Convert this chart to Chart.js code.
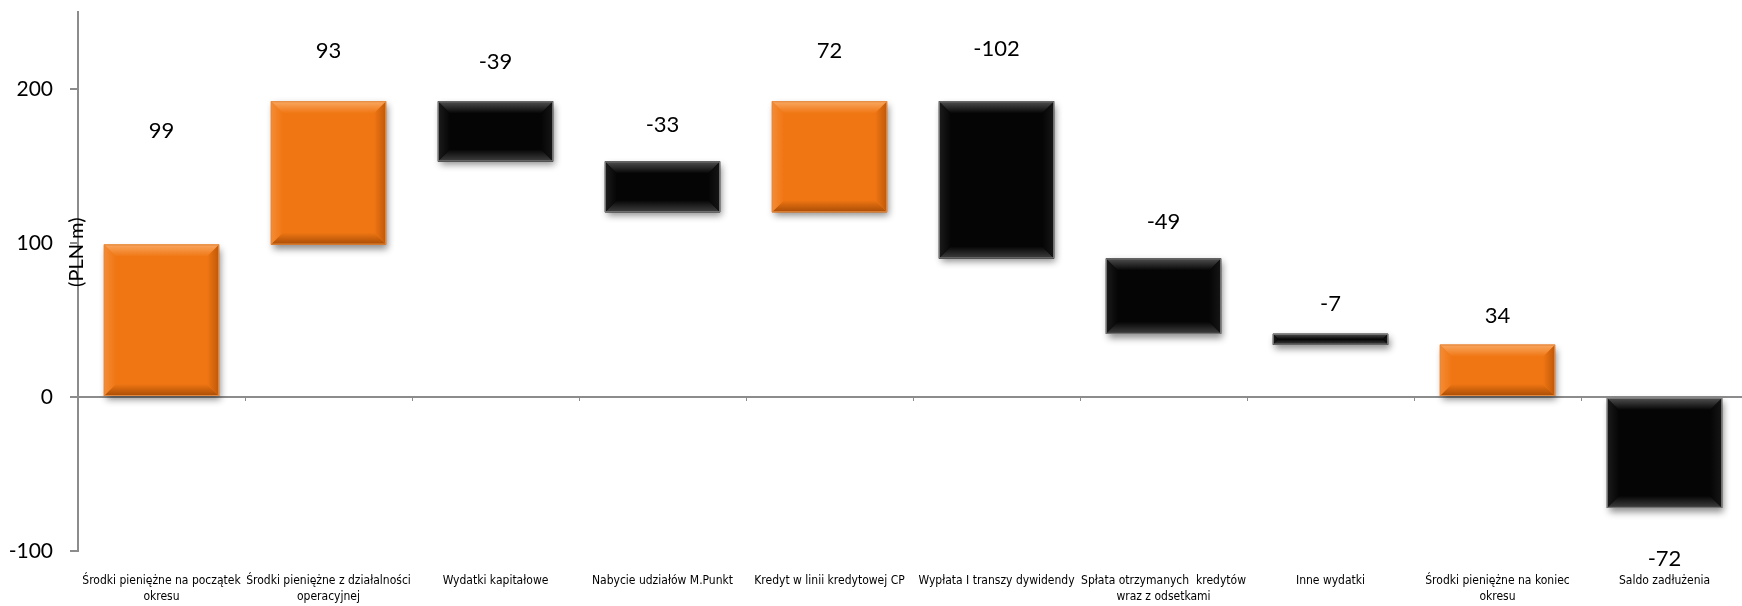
<!DOCTYPE html>
<html lang="pl">
<head>
<meta charset="utf-8">
<title>Przepływy pieniężne</title>
<script src="https://cdn.jsdelivr.net/npm/chart.js@4.4.1/dist/chart.umd.min.js"></script>
<style>
  html, body { margin: 0; padding: 0; background: #fff; overflow: hidden; }
  #wrap { width: 1750px; height: 606px; }
</style>
</head>
<body>
<div id="wrap"><canvas id="chartPrzeplywy"></canvas></div>
<script>
// Kategorie i wartości (PLN m)
const kategorie = [
  ['Środki pieniężne na początek', 'okresu'],
  ['Środki pieniężne z działalności', 'operacyjnej'],
  'Wydatki kapitałowe',
  'Nabycie udziałów M.Punkt',
  'Kredyt w linii kredytowej CP',
  'Wypłata I transzy dywidendy',
  ['Spłata otrzymanych  kredytów', 'wraz z odsetkami'],
  'Inne wydatki',
  ['Środki pieniężne na koniec', 'okresu'],
  'Saldo zadłużenia'
];
const zmiany = [99, 93, -39, -33, 72, -102, -49, -7, 34, -72];
// salda rysowane od zera, pozostałe słupki narastają od poprzedniego poziomu
const odZera = [true, false, false, false, false, false, false, false, true, true];
const osY = [-100, 0, 100, 200];
const osYMin = -100;
const osYMax = 250;

// odstęp etykiety wartości od krawędzi słupka (px)
const odstepEtykiety = [114, 50, 39, 36, 50, 52, 36, 30, 29, 51];

const SZARY = '#8C8C8C';
const kolory = {
  plus:  { base: '#F07613', top: '#F9A862', left: '#F48C35', right: '#BF5808', bottom: '#A84C06', edge: '#E38A40' },
  minus: { base: '#050505', top: '#505050', left: '#1C1C1C', right: '#161616', bottom: '#404040', edge: '#7C7C7C' }
};

// zakresy słupków pływających [od, do]
const zakresy = [];
let poziom = 0;
zmiany.forEach((v, i) => {
  if (odZera[i]) {
    zakresy.push([0, v]);
    poziom = v;
  } else {
    zakresy.push([poziom, poziom + v]);
    poziom += v;
  }
});

function prostokat(el) {
  const p = el.getProps(['x', 'y', 'base', 'width'], true);
  return {
    l: p.x - p.width / 2,
    r: p.x + p.width / 2,
    t: Math.min(p.y, p.base),
    b: Math.max(p.y, p.base)
  };
}

// cień pod słupkami
const cienSlupkow = {
  id: 'cienSlupkow',
  beforeDatasetsDraw(chart) {
    const ctx = chart.ctx;
    chart.getDatasetMeta(0).data.forEach((el, i) => {
      const r = prostokat(el);
      ctx.save();
      ctx.shadowColor = 'rgba(0,0,0,0.45)';
      ctx.shadowBlur = 7;
      ctx.shadowOffsetX = 2;
      ctx.shadowOffsetY = 4;
      ctx.fillStyle = zmiany[i] >= 0 ? kolory.plus.base : kolory.minus.base;
      ctx.fillRect(r.l, r.t, r.r - r.l, r.b - r.t);
      ctx.restore();
    });
  }
};

// fazowane krawędzie słupków
const fazaSlupkow = {
  id: 'fazaSlupkow',
  afterDatasetsDraw(chart) {
    const ctx = chart.ctx;
    chart.getDatasetMeta(0).data.forEach((el, i) => {
      const r = prostokat(el);
      const k = zmiany[i] >= 0 ? kolory.plus : kolory.minus;
      const w = r.r - r.l, h = r.b - r.t;
      const s = Math.min(12, h / 2, w / 2);
      const boki = [
        { pts: [[r.l, r.t], [r.r, r.t], [r.r - s, r.t + s], [r.l + s, r.t + s]], g: [r.l, r.t, r.l, r.t + s], c: k.top },
        { pts: [[r.l, r.b], [r.r, r.b], [r.r - s, r.b - s], [r.l + s, r.b - s]], g: [r.l, r.b, r.l, r.b - s], c: k.bottom },
        { pts: [[r.l, r.t], [r.l + s, r.t + s], [r.l + s, r.b - s], [r.l, r.b]], g: [r.l, r.t, r.l + s, r.t], c: k.left },
        { pts: [[r.r, r.t], [r.r - s, r.t + s], [r.r - s, r.b - s], [r.r, r.b]], g: [r.r, r.t, r.r - s, r.t], c: k.right }
      ];
      ctx.save();
      boki.forEach(bok => {
        const gr = ctx.createLinearGradient(...bok.g);
        gr.addColorStop(0, bok.c);
        gr.addColorStop(1, k.base);
        ctx.beginPath();
        bok.pts.forEach((pt, j) => j ? ctx.lineTo(pt[0], pt[1]) : ctx.moveTo(pt[0], pt[1]));
        ctx.closePath();
        ctx.fillStyle = gr;
        ctx.fill();
      });
      ctx.strokeStyle = k.edge;
      ctx.lineWidth = 1;
      ctx.strokeRect(r.l + 0.5, r.t + 0.5, w - 1, h - 1);
      ctx.restore();
    });
  }
};

// etykiety wartości nad / pod słupkami
const etykietyWartosci = {
  id: 'etykietyWartosci',
  afterDatasetsDraw(chart) {
    const ctx = chart.ctx;
    ctx.save();
    ctx.font = '22px Lato, "Open Sans", sans-serif';
    ctx.fillStyle = '#000';
    ctx.textAlign = 'center';
    ctx.textBaseline = 'middle';
    chart.getDatasetMeta(0).data.forEach((el, i) => {
      const r = prostokat(el);
      const ponizej = Math.min(...zakresy[i]) < 0;
      const y = ponizej ? r.b + odstepEtykiety[i] : r.t - odstepEtykiety[i];
      ctx.fillText(String(zmiany[i]), (r.l + r.r) / 2, y);
    });
    ctx.restore();
  }
};

// kreski podziału kategorii na linii zera i opis osi Y
const osieDodatki = {
  id: 'osieDodatki',
  afterDraw(chart) {
    const ctx = chart.ctx;
    const x = chart.scales.x, y = chart.scales.y;
    const y0 = y.getPixelForValue(0);
    ctx.save();
    ctx.strokeStyle = SZARY;
    ctx.lineWidth = 1;
    for (let k = 1; k <= kategorie.length; k++) {
      const px = Math.round(x.getPixelForValue(k - 0.5)) + 0.5;
      ctx.beginPath();
      ctx.moveTo(px, y0);
      ctx.lineTo(px, y0 + 4);
      ctx.stroke();
    }
    ctx.translate(y.right - 1, y.getPixelForValue(94));
    ctx.rotate(-Math.PI / 2);
    ctx.font = '20px Lato, "Open Sans", sans-serif';
    ctx.fillStyle = '#000';
    ctx.textAlign = 'center';
    ctx.textBaseline = 'middle';
    ctx.fillText('(PLN m)', 0, 0);
    ctx.restore();
  }
};

new Chart(document.getElementById('chartPrzeplywy'), {
  type: 'bar',
  data: {
    labels: kategorie,
    datasets: [{
      data: zakresy,
      backgroundColor: zmiany.map(v => v >= 0 ? kolory.plus.base : kolory.minus.base),
      borderWidth: 0,
      categoryPercentage: 1,
      barPercentage: 0.69
    }]
  },
  options: {
    responsive: true,
    maintainAspectRatio: false,
    animation: false,
    layout: { padding: { top: 12, right: 2, left: 0, bottom: 0 } },
    plugins: {
      legend: { display: false },
      tooltip: { enabled: false }
    },
    scales: {
      x: {
        grid: { display: false },
        border: { display: false },
        ticks: {
          color: '#000',
          padding: 14,
          maxRotation: 0,
          autoSkip: false,
          font: { family: '"Liberation Sans Narrow", "DejaVu Sans Condensed", Lato, sans-serif', size: 12, lineHeight: 1.3 }
        },
        afterFit(s) { s.height = 55; }
      },
      y: {
        min: osYMin,
        max: osYMax,
        afterBuildTicks(s) { s.ticks = osY.map(v => ({ value: v })); },
        afterFit(s) {
          s.width = 78;
          s.paddingTop = 0;
          s.paddingBottom = 0;
        },
        grid: {
          color: c => (c.tick && c.tick.value === 0) ? SZARY : 'rgba(0,0,0,0)',
          tickColor: SZARY,
          tickLength: 8,
          lineWidth: 2
        },
        border: { display: true, color: SZARY, width: 2 },
        ticks: {
          color: '#000',
          padding: 17,
          font: { family: 'Lato, "Open Sans", sans-serif', size: 21 }
        }
      }
    }
  },
  plugins: [cienSlupkow, fazaSlupkow, etykietyWartosci, osieDodatki]
});
</script>
</body>
</html>
